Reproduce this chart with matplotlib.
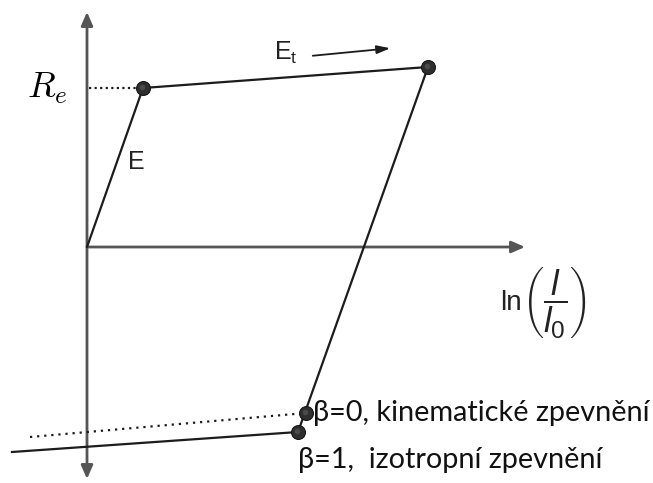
import matplotlib.pyplot as plt
from matplotlib.patches import FancyArrowPatch

plt.rcParams['mathtext.fontset'] = 'custom'
plt.rcParams['mathtext.rm'] = 'Liberation Sans'
plt.rcParams['mathtext.it'] = 'Liberation Sans:italic'

# loading path: origin -> yield point -> max point -> unloading
eps_path = [0.0, 5.6, 34.1, 21.1]
sig_path = [0.0, 15.9, 18.0, -18.5]

# end points of the reverse yield (beta = 0 kinematic, beta = 1 isotropic)
eps_kin = [-5.7, 21.9]
sig_kin = [-19.0, -16.6]
eps_iso = [-7.5, 21.1]
sig_iso = [-20.5, -18.5]

# marked points
eps_dots = [5.6, 34.1, 21.9, 21.1]
sig_dots = [15.9, 18.0, -16.6, -18.5]

line_col = '#1c1c1c'
axis_col = '#555555'

fig = plt.figure(figsize=(6.53, 4.83), dpi=100)
ax = fig.add_axes([0, 0, 1, 1])
ax.set_xlim(-8.7, 56.6)
ax.set_ylim(-23.6, 24.7)
ax.axis('off')

# axes with arrow heads
y_axis = FancyArrowPatch((0, -23.2), (0, 23.5), arrowstyle='<|-|>,head_length=8,head_width=3.5',
                         color=axis_col, lw=2, shrinkA=0, shrinkB=0)
x_axis = FancyArrowPatch((0, 0), (43.8, 0), arrowstyle='-|>,head_length=8,head_width=3.5',
                         color=axis_col, lw=2, shrinkA=0, shrinkB=0)
ax.add_patch(y_axis)
ax.add_patch(x_axis)

# stress-strain path
ax.plot(eps_path[:3], sig_path[:3], color=line_col, lw=1.6, solid_capstyle='round')
ax.plot([eps_path[2], eps_iso[1]], [sig_path[2], sig_iso[1]], color=line_col, lw=1.6)
ax.plot(eps_iso, sig_iso, color=line_col, lw=1.6)
ax.plot(eps_kin, sig_kin, color=line_col, lw=1.6, ls=(0, (1, 2.2)))

# dotted line to R_e
ax.plot([0.2, eps_path[1]], [sig_path[1], sig_path[1]], color=line_col, lw=1.6, ls=(0, (1, 1.5)))

# dots, with a small lighter spot so they read as balls
ax.plot(eps_dots, sig_dots, 'o', ms=10, mfc='#2e2e2e', mec='#151515', mew=0.8, zorder=5)
ax.plot(eps_dots, sig_dots, 'o', ms=4, mfc='#4a4a4a', mec='none', zorder=6,
        transform=ax.transData + plt.matplotlib.transforms.ScaledTranslation(-1.5 / 100, 1.5 / 100,
                                                                            fig.dpi_scale_trans))

# tangent modulus arrow
ax.annotate('', xy=(30.6, 19.9), xytext=(22.3, 19.1),
            arrowprops=dict(arrowstyle='-|>,head_length=0.8,head_width=0.25', color=line_col, lw=1.3))

ax.text(-4.0, 15.9, r'$R_e$', math_fontfamily='cm', fontsize=26, ha='center', va='center')
ax.text(4.9, 8.5, 'E', family='Liberation Sans', fontsize=18, color='#222222', ha='center', va='center')
ax.text(19.9, 19.4, r'$\mathrm{E_t}$', fontsize=18, color='#222222', ha='center', va='center')

# x axis label: ln(l/l0)
ax.text(41.3, -5.6, 'ln', family='Liberation Sans', fontsize=20, color='#222222',
        ha='left', va='center')
ax.text(43.5, -5.6, r'$\left(\dfrac{l}{l_0}\right)$', fontsize=25, color='#222222',
        ha='left', va='center')

ax.text(22.6, -16.6, 'β=0, kinematické zpevnění', family='Lato', fontsize=20.8, color='#111111',
        ha='left', va='center')
ax.text(21.1, -21.3, 'β=1,  izotropní zpevnění', family='Lato', fontsize=20.8, color='#111111',
        ha='left', va='center')

fig.savefig('out.png')
